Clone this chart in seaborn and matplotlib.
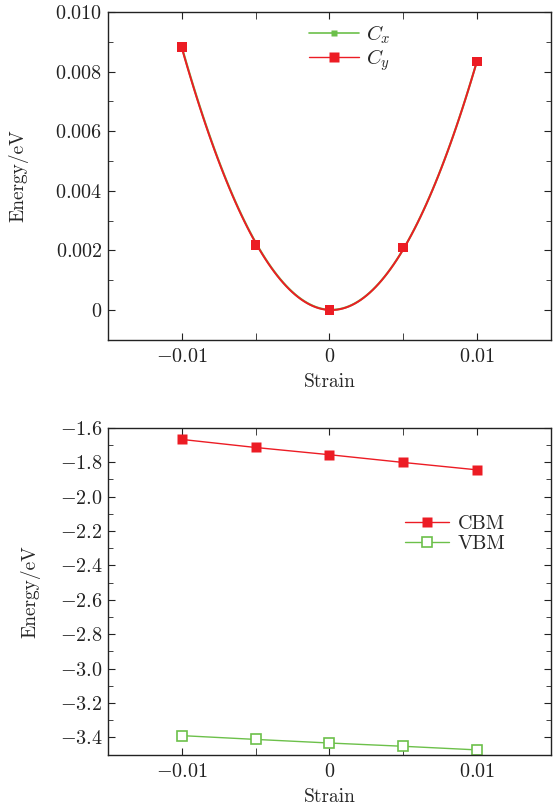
import matplotlib
matplotlib.use("Agg")
import matplotlib.pyplot as plt
from matplotlib.lines import Line2D
from matplotlib.ticker import FixedLocator, FixedFormatter, MultipleLocator
import seaborn as sns
import pandas as pd

# data
strain = [-0.01, -0.005, 0.0, 0.005, 0.01]
energy_cx = [0.00887, 0.00221, 0.0, 0.00211, 0.00834]
energy_cy = [0.00884, 0.00219, 0.0, 0.00210, 0.00834]
cbm = [-1.668, -1.715, -1.757, -1.802, -1.845]
vbm = [-3.390, -3.412, -3.433, -3.452, -3.473]

x_ticks = [-0.01, 0.0, 0.01]
x_labels = [r"$-0.01$", r"$0$", r"$0.01$"]
top_yticks = [0.0, 0.002, 0.004, 0.006, 0.008, 0.010]
top_ylabels = [r"$0$", r"$0.002$", r"$0.004$", r"$0.006$", r"$0.008$", r"$0.010$"]
bot_yticks = [-3.4, -3.2, -3.0, -2.8, -2.6, -2.4, -2.2, -2.0, -1.8, -1.6]
bot_ylabels = [r"$%.1f$" % v for v in bot_yticks]

RED = "#ec1c24"
GREEN = "#6cc04a"

sns.set_style("ticks")
plt.rcParams.update({
    "font.family": ["cmr10", "DejaVu Serif"],
    "mathtext.fontset": "cm",
    "axes.formatter.use_mathtext": True,
    "axes.unicode_minus": True,
    "font.size": 14,
    "axes.linewidth": 1.0,
    "axes.edgecolor": "#222222",
    "xtick.direction": "in",
    "ytick.direction": "in",
    "xtick.top": True,
    "ytick.right": True,
    "xtick.major.size": 5,
    "ytick.major.size": 5,
    "xtick.minor.size": 5,
    "ytick.minor.size": 3.5,
    "xtick.color": "#222222",
    "ytick.color": "#222222",
})

df_top = pd.DataFrame({"strain": strain, "cx": energy_cx, "cy": energy_cy})
df_bot = pd.DataFrame({"strain": strain, "cbm": cbm, "vbm": vbm})

fig = plt.figure(figsize=(5.56, 8.07), dpi=100)
ax1 = fig.add_axes([0.194, 0.579, 0.797, 0.406])
ax2 = fig.add_axes([0.194, 0.065, 0.797, 0.405])

# top panel: quadratic fits through the energies
sns.regplot(data=df_top, x="strain", y="cx", order=2, ci=None, scatter=False,
            line_kws=dict(color=GREEN, lw=1.5), ax=ax1)
sns.regplot(data=df_top, x="strain", y="cy", order=2, ci=None, scatter=False,
            line_kws=dict(color=RED, lw=1.4), ax=ax1)
sns.scatterplot(data=df_top, x="strain", y="cx", marker="s", s=28, color=GREEN,
                edgecolor="none", ax=ax1, zorder=3)
sns.scatterplot(data=df_top, x="strain", y="cy", marker="s", s=50, color=RED,
                edgecolor="none", ax=ax1, zorder=4)
ax1.set_xlim(-0.015, 0.015)
ax1.set_ylim(-0.001, 0.010)
ax1.yaxis.set_major_locator(FixedLocator(top_yticks))
ax1.yaxis.set_major_formatter(FixedFormatter(top_ylabels))
ax1.yaxis.set_minor_locator(MultipleLocator(0.001))
handles = [Line2D([], [], color=GREEN, lw=1.2, marker="s", ms=4, mec="none"),
           Line2D([], [], color=RED, lw=1.0, marker="s", ms=7, mec="none")]
ax1.legend(handles, [r"$C_x$", r"$C_y$"], loc="upper left",
           bbox_to_anchor=(0.42, 1.01), frameon=False, fontsize=15,
           handlelength=2.4, labelspacing=0.05, handletextpad=0.35,
           borderaxespad=0.3)

# bottom panel: band edges
sns.lineplot(data=df_bot, x="strain", y="cbm", color=RED, lw=1.0, marker="s",
             markersize=7, markeredgecolor="none", ax=ax2, label="CBM")
sns.lineplot(data=df_bot, x="strain", y="vbm", color=GREEN, lw=1.0, marker="s",
             markersize=7, markerfacecolor="white", markeredgecolor=GREEN,
             markeredgewidth=1.2, ax=ax2, label="VBM")
ax2.set_xlim(-0.015, 0.015)
ax2.set_ylim(-3.5, -1.6)
ax2.yaxis.set_major_locator(FixedLocator(bot_yticks))
ax2.yaxis.set_major_formatter(FixedFormatter(bot_ylabels))
ax2.yaxis.set_minor_locator(MultipleLocator(0.1))
ax2.legend(loc="upper left", bbox_to_anchor=(0.63, 0.79), frameon=False,
           fontsize=14.5, handlelength=2.2, labelspacing=0.1, handletextpad=0.4)

for ax in (ax1, ax2):
    ax.xaxis.set_major_locator(FixedLocator(x_ticks))
    ax.xaxis.set_major_formatter(FixedFormatter(x_labels))
    ax.xaxis.set_minor_locator(MultipleLocator(0.005))
    ax.tick_params(which="both", direction="in", top=True, right=True)
    ax.tick_params(axis="x", labelsize=14.5, pad=6)
    ax.tick_params(axis="y", labelsize=14.5, pad=4)
    ax.set_xlabel("Strain", fontsize=14, labelpad=5)
    ax.set_ylabel("Energy/eV", fontsize=14)
    for sp in ax.spines.values():
        sp.set_visible(True)

ax1.yaxis.set_label_coords(-0.18, 0.5)
ax2.yaxis.set_label_coords(-0.152, 0.5)

fig.savefig("out.png", dpi=100)
